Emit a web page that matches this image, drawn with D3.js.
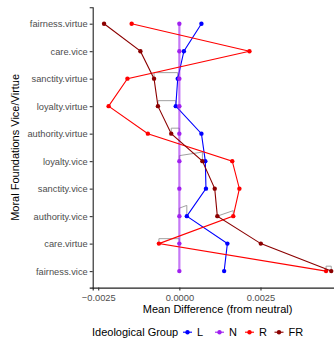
<!DOCTYPE html>
<html>
<head>
<meta charset="utf-8">
<script src="https://cdn.jsdelivr.net/npm/d3@7"></script>
<style>
  html, body { margin: 0; padding: 0; background: #fff; }
  svg { display: block; font-family: "Liberation Sans", Arial, sans-serif; }
</style>
</head>
<body>
<div id="chart"></div>
<script>
// categories top to bottom
const categories = ['fairness.virtue', 'care.vice', 'sanctity.virtue', 'loyalty.virtue', 'authority.virtue',
  'loyalty.vice', 'sanctity.vice', 'authority.vice', 'care.virtue', 'fairness.vice']

const groups = ['L', 'N', 'R', 'FR']
const colors = { L: '#0000ff', N: '#a020f0', R: '#ff0000', FR: '#8b0000' }

const valuesL = [0.00068, 0.00014, -0.00005, -0.00011, 0.00068, 0.00080, 0.00082, 0.00023, 0.00148, 0.00138]
const valuesN = [0, 0, 0, 0, 0, 0, 0, 0, 0, 0]
const valuesR = [-0.00147, 0.00216, -0.00160, -0.00218, -0.00097, 0.00163, 0.00185, 0.00166, -0.00063, 0.00452]
const valuesFR = [-0.00232, -0.00120, -0.00078, -0.00066, -0.00025, 0.00071, 0.00109, 0.00117, 0.00251, 0.00468]

const xTicks = [-0.0025, 0, 0.0025]

// grey comparison brackets: category, group from, group to, height at each end (in category steps)
const brackets = [
  ['sanctity.virtue', 'FR', 'L', 0.22, 0.22],
  ['loyalty.virtue', 'FR', 'L', 0.2, 0.2],
  ['authority.virtue', 'FR', 'N', 0.2, 0.2],
  ['loyalty.vice', 'N', 'FR', 0.2, 0.33],
  ['authority.vice', 'N', 'L', 0.29, 0.39],
  ['authority.vice', 'FR', 'R', 0.0, 0.2],
  ['care.virtue', 'R', 'N', 0.18, 0.18],
  ['fairness.vice', 'R', 'FR', 0.18, 0.18]
]

const seriesValues = { L: valuesL, N: valuesN, R: valuesR, FR: valuesFR }

const width = 334
const height = 343
// the panel runs past the right edge of the picture, as in the original crop
const margin = { top: 7.2, right: -8.6, bottom: 55.4, left: 92.7 }
const inner = { w: width - margin.left - margin.right, h: height - margin.top - margin.bottom }

const svg = d3.select('#chart').append('svg')
  .attr('width', width).attr('height', height)

const g = svg.append('g').attr('transform', `translate(${margin.left},${margin.top})`)

// scales (5% expansion like ggplot)
const all = groups.flatMap(k => seriesValues[k])
const [lo, hi] = d3.extent(all)
const pad = (hi - lo) * 0.05
const x = d3.scaleLinear().domain([lo - pad, hi + pad]).range([0, inner.w])
const y = d3.scalePoint().domain(categories).range([0, inner.h]).padding(0.6)

// axes
const fmt = d3.format('.4f')
const xAxis = g.append('g').attr('transform', `translate(0,${inner.h})`)
  .call(d3.axisBottom(x).tickValues(xTicks).tickFormat(d => fmt(d).replace('-', '\u2212')).tickSize(3).tickPadding(2))
const yAxis = g.append('g')
  .call(d3.axisLeft(y).tickSize(3).tickPadding(2))

;[xAxis, yAxis].forEach(ax => {
  ax.select('.domain').attr('stroke', '#222').attr('stroke-width', 1.1)
  ax.selectAll('.tick line').attr('stroke', '#333').attr('stroke-width', 1.1)
  ax.selectAll('.tick text').attr('fill', '#4d4d4d').style('font-size', '9.3px')
})
xAxis.selectAll('.tick text').attr('dy', '0.9em')

// brackets
const step = y.step()
const bline = d3.line()
brackets.forEach(([cat, a, b, h1, h2]) => {
  const i = categories.indexOf(cat)
  const x1 = x(seriesValues[a][i]), x2 = x(seriesValues[b][i]), yc = y(cat)
  g.append('path')
    .attr('d', bline([[x1, yc], [x1, yc - h1 * step], [x2, yc - h2 * step], [x2, yc]]))
    .attr('fill', 'none').attr('stroke', '#a0a0a0').attr('stroke-width', 1)
})

// lines and points
const line = d3.line().x(d => x(d.v)).y(d => y(d.c))
groups.forEach(k => {
  const pts = categories.map((c, i) => ({ c, v: seriesValues[k][i] }))
  g.append('path').datum(pts)
    .attr('d', line).attr('fill', 'none')
    .attr('stroke', colors[k])
    .attr('stroke-width', k === 'N' ? 2.2 : 1.1)
    .attr('stroke-opacity', k === 'N' ? 0.6 : 1)
  g.selectAll(null).data(pts).enter().append('circle')
    .attr('cx', d => x(d.v)).attr('cy', d => y(d.c)).attr('r', 2.2)
    .attr('fill', colors[k])
})

// axis titles (centred on the panel)
svg.append('text')
  .attr('x', margin.left + inner.w / 2).attr('y', 313)
  .attr('text-anchor', 'middle').style('font-size', '11px').attr('fill', '#000')
  .text('Mean Difference (from neutral)')
svg.append('text')
  .attr('transform', `translate(19,${margin.top + inner.h / 2}) rotate(-90)`)
  .attr('text-anchor', 'middle').style('font-size', '11px').attr('fill', '#000')
  .text('Moral Foundations Vice/Virtue')

// legend
const legend = svg.append('g').attr('transform', 'translate(92,336)')
legend.append('text').attr('x', 0).attr('y', 0).style('font-size', '11px').text('Ideological Group')
const keyX = [95.5, 127.5, 157.5, 187]
groups.forEach((k, i) => {
  const lg = legend.append('g').attr('transform', `translate(${keyX[i]},-3.8)`)
  lg.append('line').attr('x1', -4.5).attr('x2', 4.5).attr('stroke', colors[k]).attr('stroke-width', 1.1)
  lg.append('circle').attr('r', 2.2).attr('fill', colors[k])
  lg.append('text').attr('x', 9.5).attr('y', 3.8).style('font-size', '11px').text(k)
})
</script>
</body>
</html>
